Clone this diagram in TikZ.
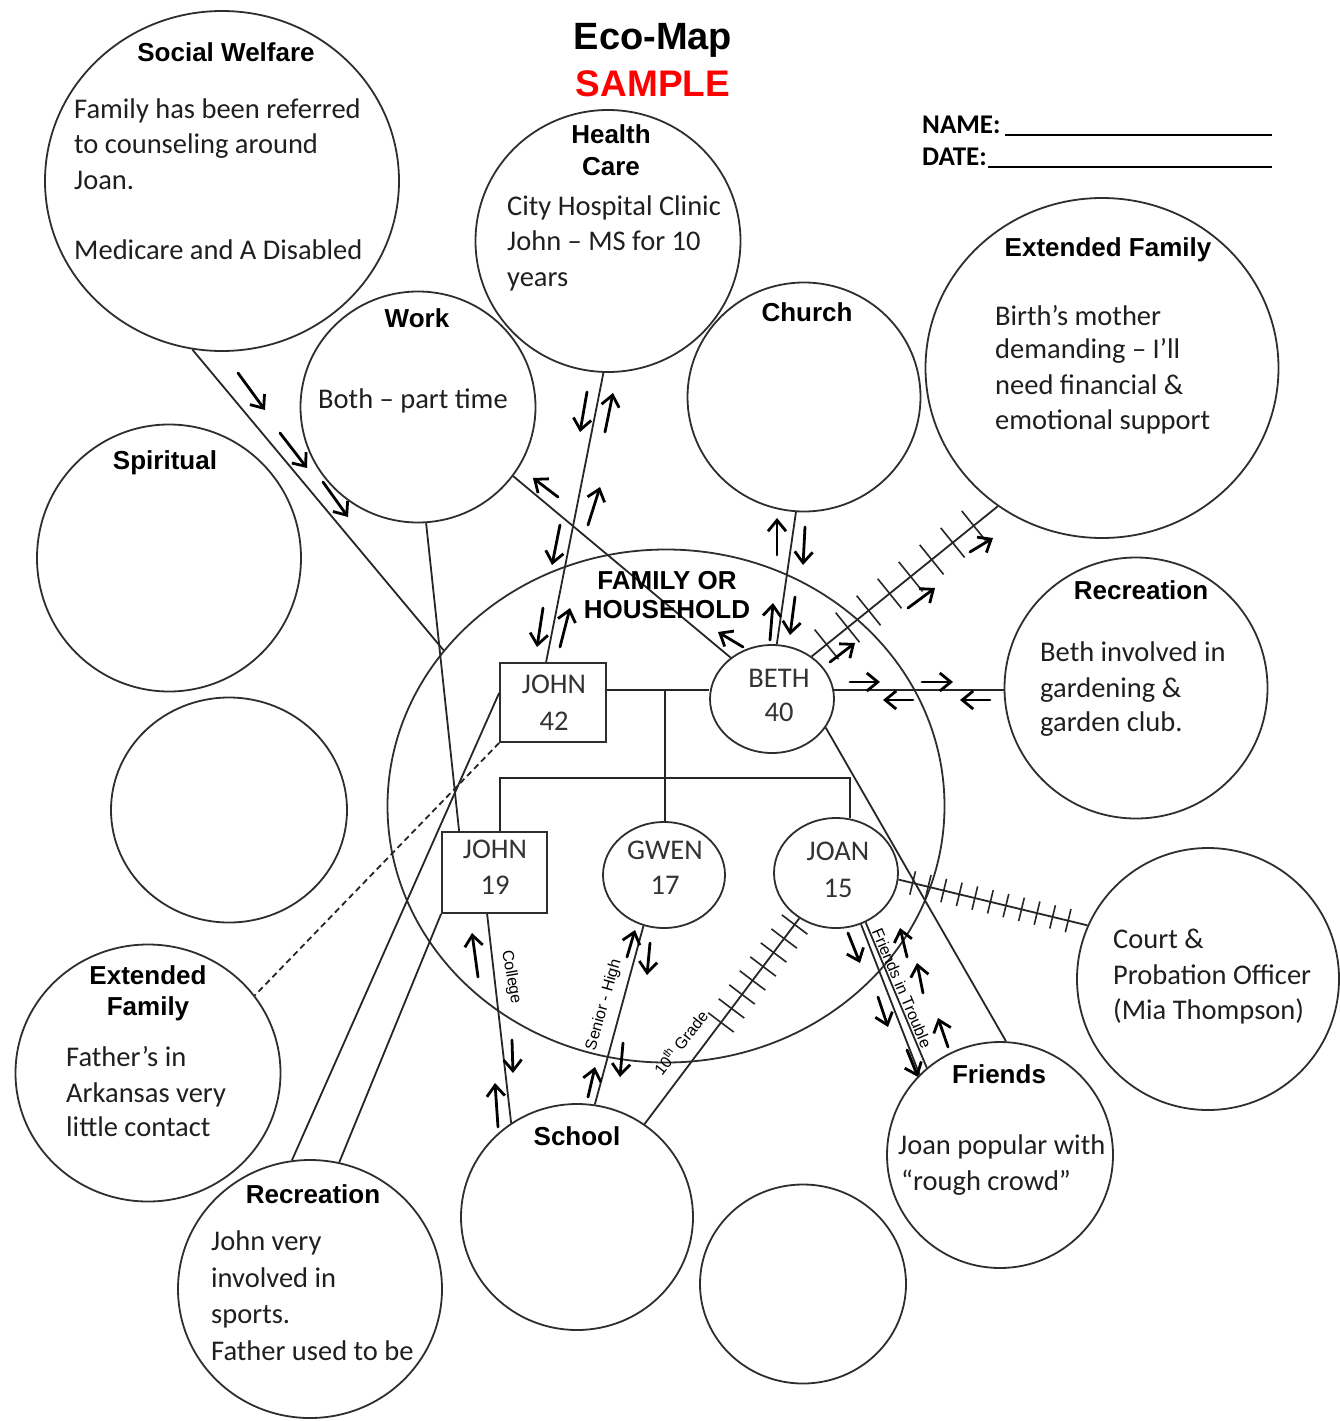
\documentclass[tikz,border=0pt]{standalone}
\usepackage{fontspec}
\setmainfont{Carlito}
\newfontfamily\hfont{Liberation Sans}
\usetikzlibrary{shapes.geometric,arrows.meta,decorations.markings}
\begin{document}
\begin{tikzpicture}[x=1pt,y=-1pt,
  ring/.style={draw=black!82,line width=1.8pt,ellipse,inner sep=0pt},
  box/.style={draw=black!82,line width=1.8pt,rectangle,inner sep=0pt},
  ln/.style={draw=black!85,line width=1.8pt},
  arr/.style={-{Straight Barb[length=11pt,width=18pt]},line width=2.8pt,line cap=round},
  ttl/.style={font=\hfont\bfseries\fontsize{26}{30}\selectfont,anchor=base,inner sep=0pt},
  bdy/.style={font=\fontsize{28.5}{34}\selectfont,anchor=base west,inner sep=0pt,text=black!88},
  mem/.style={font=\fontsize{28.5}{34}\selectfont,anchor=base,inner sep=0pt,text=black!80},
  lbl/.style={font=\hfont\fontsize{16}{18}\selectfont,inner sep=0pt},
  hatchA/.style={postaction={decorate,decoration={markings,mark=between positions 0.08 and 0.95 step 27pt with {\draw[line width=1.6pt] (0pt,-19pt) -- (0pt,19pt);}}}},
  hatchB/.style={postaction={decorate,decoration={markings,mark=between positions 0.075 and 0.93 step 16pt with {\draw[line width=1.6pt] (0pt,-12pt) -- (0pt,12pt);}}}},
  hatchC/.style={postaction={decorate,decoration={markings,mark=between positions 0.03 and 0.56 step 17.5pt with {\draw[line width=1.6pt] (0pt,-16pt) -- (0pt,16pt);}}}}
]
\useasboundingbox[fill=white] (0,0) rectangle (1339,1421);

% ---- outer circles
\node[ring,minimum width=354pt,minimum height=340pt] (sw) at (222,181) {};
\node[ring,minimum width=265pt,minimum height=262pt] (hc) at (608,241) {};
\node[ring,minimum width=235pt,minimum height=231pt] (work) at (418,407) {};
\node[ring,minimum width=233pt,minimum height=229pt] (church) at (804,397) {};
\node[ring,minimum width=353pt,minimum height=340pt] (extf) at (1102,368) {};
\node[ring,minimum width=264pt,minimum height=267pt] (spir) at (169,558) {};
\node[ring,minimum width=236pt,minimum height=225pt] (empty1) at (229,810) {};
\node[ring,minimum width=263pt,minimum height=261pt] (rec) at (1136,688) {};
\node[ring,minimum width=557pt,minimum height=513pt] (fam) at (666,806) {};
\node[ring,minimum width=262pt,minimum height=262pt] (court) at (1208,979) {};
\node[ring,minimum width=265pt,minimum height=257pt] (extb) at (148,1073) {};
\node[ring,minimum width=226pt,minimum height=226pt] (friends) at (1000,1155) {};
\node[ring,minimum width=232pt,minimum height=226pt] (school) at (577,1217) {};
\node[ring,minimum width=206pt,minimum height=199pt] (empty2) at (803,1284) {};
\node[ring,minimum width=264pt,minimum height=258pt] (recb) at (310,1289) {};

% ---- household members
\node[box,minimum width=106pt,minimum height=79pt] (john42) at (553,702.5) {};
\node[ring,minimum width=124pt,minimum height=108pt] (beth) at (772,699) {};
\node[box,minimum width=105pt,minimum height=81pt] (john19) at (494.5,872.5) {};
\node[ring,minimum width=122pt,minimum height=106pt] (gwen) at (664,875) {};
\node[ring,minimum width=124pt,minimum height=110pt] (joan) at (836,873) {};

% ---- family tree lines
\coordinate (mj) at (665,690);
\coordinate (sl) at (500,778);
\coordinate (sr) at (850,778);
\draw[ln] (mj -| john42.east) -- (mj -| beth.west);
\draw[ln] (mj) -- (mj |- gwen.north);
\draw[ln] (sl |- john19.north) -- (sl) -- (sr) -- ([yshift=-1pt]sr |- joan.north);

% ---- connectors
\draw[ln] (sw.260) -- (fam.145);
\draw[ln] (work.274) -- ([xshift=18pt]john19.north west);
\draw[ln] (work.324) -- (beth.135);
\draw[ln] (hc.268) -- ([xshift=47pt]john42.north west);
\draw[ln] (church.266) -- (beth.85);
\draw[ln,hatchA] (beth.47) -- (extf.233);
\draw[ln] (beth.8) -- (beth.8 -| rec.west);
\draw[ln] (beth.332) -- (friends.87);
\draw[ln,hatchB] (joan.354) -- (court.156);
\draw[ln] (joan.296) -- (friends.135);
\draw[ln] (joan.301) -- (friends.130);
\draw[ln,hatchC] (joan.231) -- (school.54);
\draw[ln] (gwen.248) -- (school.81);
\draw[ln] ([xshift=46pt]john19.south west) -- (school.125);
\draw[ln] ([yshift=9.5pt]john42.west) -- (recb.98);
\draw[ln] (john19.south west) -- (recb.77);
\draw[ln,dash pattern=on 6pt off 4pt] (john42.south west) -- (extb.36);

% ---- energy-flow arrows
\draw[arr] (238,373) -- (265,410);
\draw[arr] (280,433) -- (307,468);
\draw[arr] (323,482) -- (348,517);
\draw[arr] (558,497) -- (533,478);
\draw[arr] (743,647) -- (718,632);
\draw[arr] (587,392) -- (580,432);
\draw[arr] (605,432) -- (613,393);
\draw[arr] (588,525) -- (600,487);
\draw[arr] (560,525) -- (552,565);
\draw[arr] (543,608) -- (537,647);
\draw[arr] (560,647) -- (570,608);
\draw[arr] (777,555) -- (777,518);
\draw[arr] (805,527) -- (803,565);
\draw[arr] (770,640) -- (773,603);
\draw[arr] (795,597) -- (790,635);
\draw[arr] (830,662) -- (855,643);
\draw[arr] (908,608) -- (935,588);
\draw[arr] (970,552) -- (993,538);
\draw[arr] (850,682) -- (880,682);
\draw[arr] (922,682) -- (953,682);
\draw[arr] (913,700) -- (883,700);
\draw[arr] (990,700) -- (960,700);
\draw[arr] (848,933) -- (860,963);
\draw[arr] (878,997) -- (888,1027);
\draw[arr] (907,1050) -- (918,1077);
\draw[arr] (907,957) -- (900,928);
\draw[arr] (923,993) -- (917,963);
\draw[arr] (948,1047) -- (938,1018);
\draw[arr] (627,957) -- (635,930);
\draw[arr] (650,943) -- (647,975);
\draw[arr] (588,1097) -- (595,1067);
\draw[arr] (623,1043) -- (620,1077);
\draw[arr] (478,977) -- (472,933);
\draw[arr] (512,1040) -- (513,1073);
\draw[arr] (498,1127) -- (495,1083);

% ---- connector labels
\node[lbl,rotate=-80] (college) at (511,977) {College};
\node[lbl,rotate=74] (senior) at (604,1005) {Senior - High};
\node[lbl,rotate=52] (grade) at (680,1042) {10\textsuperscript{th} Grade};
\node[lbl,rotate=-67] (fit) at (902,988) {Friends in Trouble};

% ---- header
\node[font=\hfont\bfseries\fontsize{38}{40}\selectfont,anchor=base,inner sep=0pt] (title) at (653,50) {Eco-Map};
\node[font=\hfont\bfseries\fontsize{37}{40}\selectfont,anchor=base,inner sep=0pt,text=red] (sample) at (653,96) {SAMPLE};
\node[font=\bfseries\fontsize{27}{30}\selectfont,anchor=base west,inner sep=0pt] (name) at (922,133) {NAME:};
\node[font=\bfseries\fontsize{27}{30}\selectfont,anchor=base west,inner sep=0pt] (date) at (922,165) {DATE:};
\draw[line width=1.7pt] ([xshift=4pt,yshift=-2pt]name.base east) -- (1272,135);
\draw[line width=1.7pt] ([xshift=1pt,yshift=-2pt]date.base east) -- (1272,167);

% ---- Social Welfare
\node[ttl] (swt) at (226,62) {Social Welfare};
\node[bdy] (sw1) at (74,118) {Family has been referred};
\node[bdy] (sw2) at (74,153) {to counseling around};
\node[bdy] (sw3) at (74,189) {Joan.};
\node[bdy] (sw4) at (74,259) {Medicare and A Disabled};
% ---- Health Care
\node[ttl] (hct1) at (611,143) {Health};
\node[ttl] (hct2) at (611,175) {Care};
\node[bdy] (hc1) at (507,215) {City Hospital Clinic};
\node[bdy] (hc2) at (507,250) {John – MS for 10};
\node[bdy] (hc3) at (507,286) {years};
% ---- Work
\node[ttl] (workt) at (417,327) {Work};
\node[bdy] (work1) at (318,408) {Both – part time};
% ---- Church
\node[ttl] (churcht) at (807,321) {Church};
% ---- Extended Family (mother)
\node[ttl] (extft) at (1108,256) {Extended Family};
\node[bdy] (extf1) at (995,325) {Birth’s mother};
\node[bdy] (extf2) at (995,358) {demanding – I’ll};
\node[bdy] (extf3) at (995,394) {need financial \&};
\node[bdy] (extf4) at (995,429) {emotional support};
% ---- Spiritual
\node[ttl] (spirt) at (165,469) {Spiritual};
% ---- Recreation (Beth)
\node[ttl] (rect) at (1141,599) {Recreation};
\node[bdy] (rec1) at (1040,661) {Beth involved in};
\node[bdy] (rec2) at (1040,697) {gardening \&};
\node[bdy] (rec3) at (1040,731) {garden club.};
% ---- Family or household
\node[ttl] (famt1) at (667,589) {FAMILY OR};
\node[ttl] (famt2) at (667,618) {HOUSEHOLD};
\node[mem] (j42a) at (554,693) {JOHN};
\node[mem] (j42b) at (554,730) {42};
\node[mem] (betha) at (779,687) {BETH};
\node[mem] (bethb) at (779,721) {40};
\node[mem] (j19a) at (495,858) {JOHN};
\node[mem] (j19b) at (495,894) {19};
\node[mem] (gwena) at (665,859) {GWEN};
\node[mem] (gwenb) at (665,894) {17};
\node[mem] (joana) at (838,860) {JOAN};
\node[mem] (joanb) at (838,897) {15};
% ---- Court
\node[bdy] (court1) at (1113,948) {Court \&};
\node[bdy] (court2) at (1113,984) {Probation Officer};
\node[bdy] (court3) at (1113,1019) {(Mia Thompson)};
% ---- Extended family (father)
\node[ttl] (extbt1) at (148,984) {Extended};
\node[ttl] (extbt2) at (148,1015) {Family};
\node[bdy] (extb1) at (66,1066) {Father’s in};
\node[bdy] (extb2) at (66,1102) {Arkansas very};
\node[bdy] (extb3) at (66,1136) {little contact};
% ---- Friends
\node[ttl] (friendst) at (999,1083) {Friends};
\node[bdy] (friends1) at (898,1154) {Joan popular with};
\node[bdy] (friends2) at (901,1190) {“rough crowd”};
% ---- School
\node[ttl] (schoolt) at (577,1145) {School};
% ---- Recreation (John)
\node[ttl] (recbt) at (313,1203) {Recreation};
\node[bdy] (recb1) at (211,1250) {John very};
\node[bdy] (recb2) at (211,1287) {involved in};
\node[bdy] (recb3) at (211,1323) {sports.};
\node[bdy] (recb4) at (211,1360) {Father used to be};
\end{tikzpicture}
\end{document}
